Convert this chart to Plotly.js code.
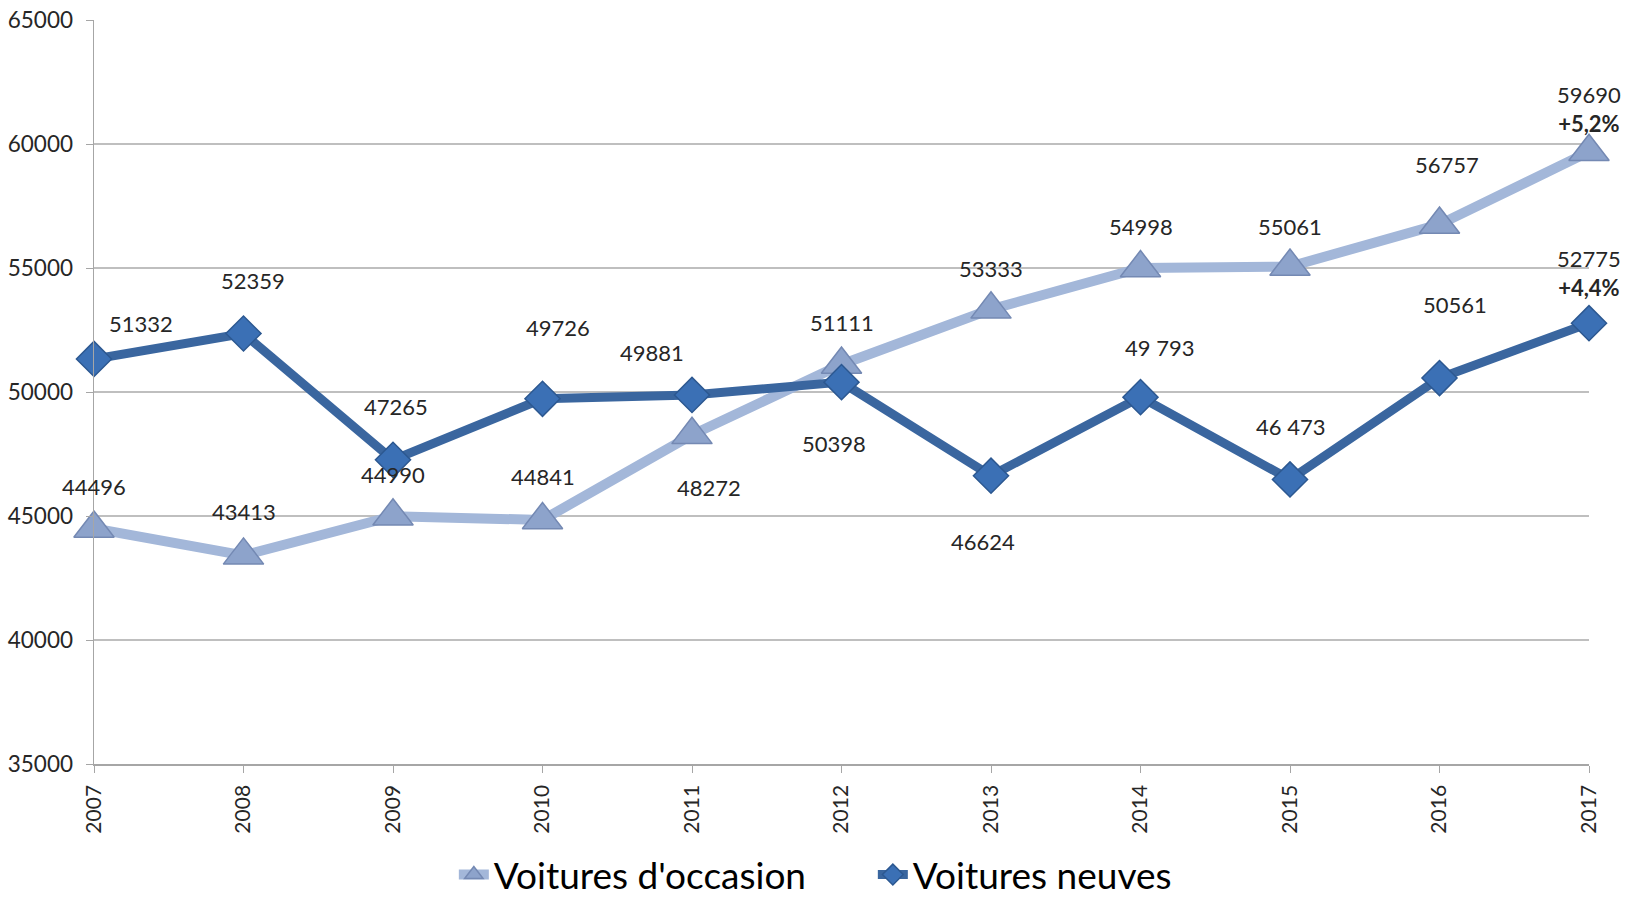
<!DOCTYPE html>
<html>
<head>
<meta charset="utf-8">
<script src="https://cdn.plot.ly/plotly-3.0.1.min.js"></script>
<style>html,body{margin:0;padding:0;background:#fff;}#chart{width:1629px;height:906px;}</style>
</head>
<body>
<div id="chart"></div>
<script>
const years = [2007, 2008, 2009, 2010, 2011, 2012, 2013, 2014, 2015, 2016, 2017];
const occasion = [44496, 43413, 44990, 44841, 48272, 51111, 53333, 54998, 55061, 56757, 59690];
const neuves = [51332, 52359, 47265, 49726, 49881, 50398, 46624, 49793, 46473, 50561, 52775];
const occasionLabels = ["44496", "43413", "44990", "44841", "48272", "51111", "53333", "54998", "55061", "56757", "59690<br><b>+5,2%</b>"];
const neuvesLabels = ["51332", "52359", "47265", "49726", "49881", "50398", "46624", "49 793", "46 473", "50561", "52775<br><b>+4,4%</b>"];
const seriesNames = ["Voitures d'occasion", "Voitures neuves"];
const yTicks = [35000, 40000, 45000, 50000, 55000, 60000, 65000];

// label placement (pixel shifts relative to each point)
const occShift = [[0,42],[0,44],[0,42],[0,43],[17,-53],[0,42],[0,41],[0,42],[0,40],[7,60],[0,43]];
const neuShift = [[47,35],[9,53],[3,53],[15,71],[-40,42],[-8,-61],[-8,-66],[19,50],[0,53],[15,74],[0,50]];

const FONT = "Lato, 'Open Sans', sans-serif";
const annotations = [];
years.forEach((yr, i) => {
  annotations.push({x: yr, y: occasion[i], xref: 'x', yref: 'y', text: occasionLabels[i],
    showarrow: false, xshift: occShift[i][0], yshift: occShift[i][1],
    font: {family: FONT, size: 22, color: '#262626'}});
  annotations.push({x: yr, y: neuves[i], xref: 'x', yref: 'y', text: neuvesLabels[i],
    showarrow: false, xshift: neuShift[i][0], yshift: neuShift[i][1],
    font: {family: FONT, size: 22, color: '#262626'}});
});

const traces = [
  {x: years, y: occasion, name: seriesNames[0], type: 'scatter', mode: 'lines+markers',
   line: {color: '#A3B7D9', width: 10}, cliponaxis: false,
   marker: {symbol: 'triangle-up', size: 35, color: '#8DA3CB', line: {color: '#7489B3', width: 1.5}}},
  {x: years, y: neuves, name: seriesNames[1], type: 'scatter', mode: 'lines+markers',
   line: {color: '#3A669F', width: 9}, cliponaxis: false,
   marker: {symbol: 'diamond', size: 27, color: '#3B70B5', line: {color: '#2C5891', width: 1.5}}}
];

const layout = {
  width: 1629, height: 906,
  paper_bgcolor: '#ffffff', plot_bgcolor: '#ffffff',
  margin: {l: 93.5, r: 39.5, t: 20, b: 142, autoexpand: false},
  font: {family: FONT, color: '#262626'},
  showlegend: true,
  legend: {orientation: 'h', xref: 'container', yref: 'container', x: 0.2786, xanchor: 'left', y: -0.012, yanchor: 'bottom',
    font: {family: FONT, size: 37, color: '#000'}, traceorder: 'normal', entrywidth: 374, entrywidthmode: 'pixels',
    bgcolor: 'rgba(0,0,0,0)'},
  xaxis: {range: [2007, 2017], tickmode: 'array', tickvals: years, ticktext: years.map(String),
    tickangle: -90, ticks: 'outside', ticklen: 7, tickcolor: '#A6A6A6', ticklabelstandoff: 4,
    showline: true, linecolor: '#A6A6A6', linewidth: 1.5, showgrid: false, zeroline: false,
    tickfont: {family: FONT, size: 21, color: '#262626'}},
  yaxis: {range: [35000, 65000], tickmode: 'array', tickvals: yTicks, ticktext: yTicks.map(String),
    ticks: 'outside', ticklen: 7, tickcolor: '#A6A6A6', ticklabelstandoff: 8,
    showline: true, linecolor: '#A6A6A6', linewidth: 1.5, showgrid: true, gridcolor: '#BFBFBF', gridwidth: 1.3,
    zeroline: false, tickfont: {family: FONT, size: 22.5, color: '#262626'}},
  annotations: annotations
};

Plotly.newPlot('chart', traces, layout, {displayModeBar: false, staticPlot: true});
</script>
</body>
</html>
